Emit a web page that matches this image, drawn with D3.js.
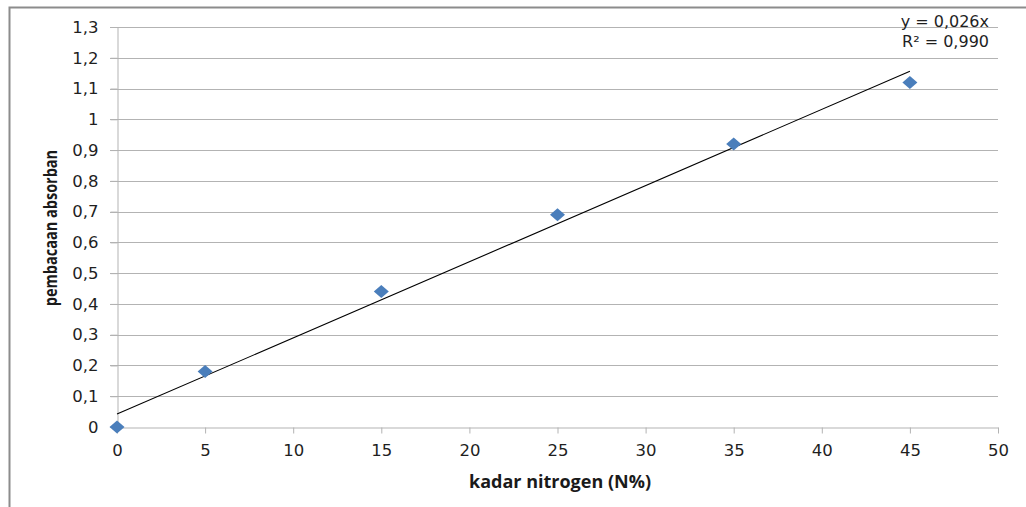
<!DOCTYPE html>
<html><head><meta charset="utf-8">
<script src="https://cdn.jsdelivr.net/npm/d3@7"></script>
<style>body{margin:0;background:#fff}svg{display:block}</style>
</head><body>
<script>
const xValues = [0, 5, 15, 25, 35, 45];
const yValues = [0, 0.18, 0.44, 0.69, 0.92, 1.12];
const xTicks = [0, 5, 10, 15, 20, 25, 30, 35, 40, 45, 50];
const yTicks = [0, 0.1, 0.2, 0.3, 0.4, 0.5, 0.6, 0.7, 0.8, 0.9, 1, 1.1, 1.2, 1.3];
const trendX = [0, 45];
const trendY = [0.042, 1.156];
const equationLines = ["y = 0,026x", "R² = 0,990"];
const xTitle = "kadar nitrogen (N%)";
const yTitle = "pembacaan absorban";

const W = 1026, H = 507;
const svg = d3.select("body").append("svg").attr("width", W).attr("height", H);
const tickFont = "'DejaVu Sans', sans-serif";
const titleFont = "'Open Sans', sans-serif";
const fmt = v => String(+v.toFixed(1)).replace(".", ",");

svg.append("rect").attr("x", 9.5).attr("y", 7.5).attr("width", 1040).attr("height", 520)
  .attr("fill", "#fff").attr("stroke", "#8c8c8c").attr("stroke-width", 2);

const x = d3.scaleLinear().domain([0, 50]).range([117, 998]);
const y = d3.scaleLinear().domain([0, 1.3]).range([427, 27]);

// gridlines
svg.append("g").selectAll("line").data(yTicks.filter(d => d > 0)).join("line")
  .attr("x1", 110).attr("x2", 998)
  .attr("y1", d => Math.round(y(d)) + 0.5).attr("y2", d => Math.round(y(d)) + 0.5)
  .attr("stroke", "#b3b3b3").attr("stroke-width", 1);

// y axis
const yAxis = svg.append("g").attr("transform", "translate(117.5,0)")
  .call(d3.axisLeft(y).tickValues(yTicks).tickFormat(fmt).tickSize(7).tickPadding(12));
yAxis.select(".domain").attr("stroke", "#b3b3b3");
yAxis.selectAll(".tick line").attr("stroke", "#b3b3b3");
yAxis.selectAll(".tick text").attr("font-family", tickFont).attr("font-size", 16.5).attr("fill", "#1f1f1f");

// x axis
const xAxis = svg.append("g").attr("transform", "translate(0,427.5)")
  .call(d3.axisBottom(x).tickValues(xTicks).tickFormat(d => String(d)).tickSize(6).tickPadding(11).tickSizeOuter(0));
xAxis.select(".domain").attr("stroke", "#b3b3b3");
xAxis.selectAll(".tick line").attr("stroke", "#b3b3b3");
xAxis.selectAll(".tick text").attr("font-family", tickFont).attr("font-size", 16.5).attr("fill", "#1f1f1f");

// trendline
svg.append("line")
  .attr("x1", x(trendX[0])).attr("y1", y(trendY[0]))
  .attr("x2", x(trendX[1])).attr("y2", y(trendY[1]))
  .attr("stroke", "#000").attr("stroke-width", 1.1);

// markers
const diamond = "M0,-6.5L7.5,0L0,6.5L-7.5,0Z";
svg.append("g").selectAll("path").data(xValues.map((v, i) => [v, yValues[i]])).join("path")
  .attr("d", diamond)
  .attr("transform", d => `translate(${x(d[0])},${y(d[1])})`)
  .attr("fill", "#4a7ebb");

// equation
svg.append("g").selectAll("text").data(equationLines).join("text")
  .attr("x", 989).attr("y", (d, i) => 27 + i * 20)
  .attr("text-anchor", "end")
  .attr("font-family", tickFont).attr("font-size", 16).attr("fill", "#1f1f1f")
  .text(d => d);

// titles
svg.append("text").attr("x", 560).attr("y", 488).attr("text-anchor", "middle")
  .attr("font-family", titleFont).attr("font-size", 18).attr("font-weight", "bold").attr("fill", "#1a1a1a")
  .text(xTitle);
svg.append("text").attr("transform", "translate(57,228) scale(1.25,1) rotate(-90)").attr("text-anchor", "middle")
  .attr("font-family", titleFont).attr("font-size", 14.5).attr("font-weight", "bold").attr("fill", "#1a1a1a")
  .text(yTitle);
</script>
</body></html>
